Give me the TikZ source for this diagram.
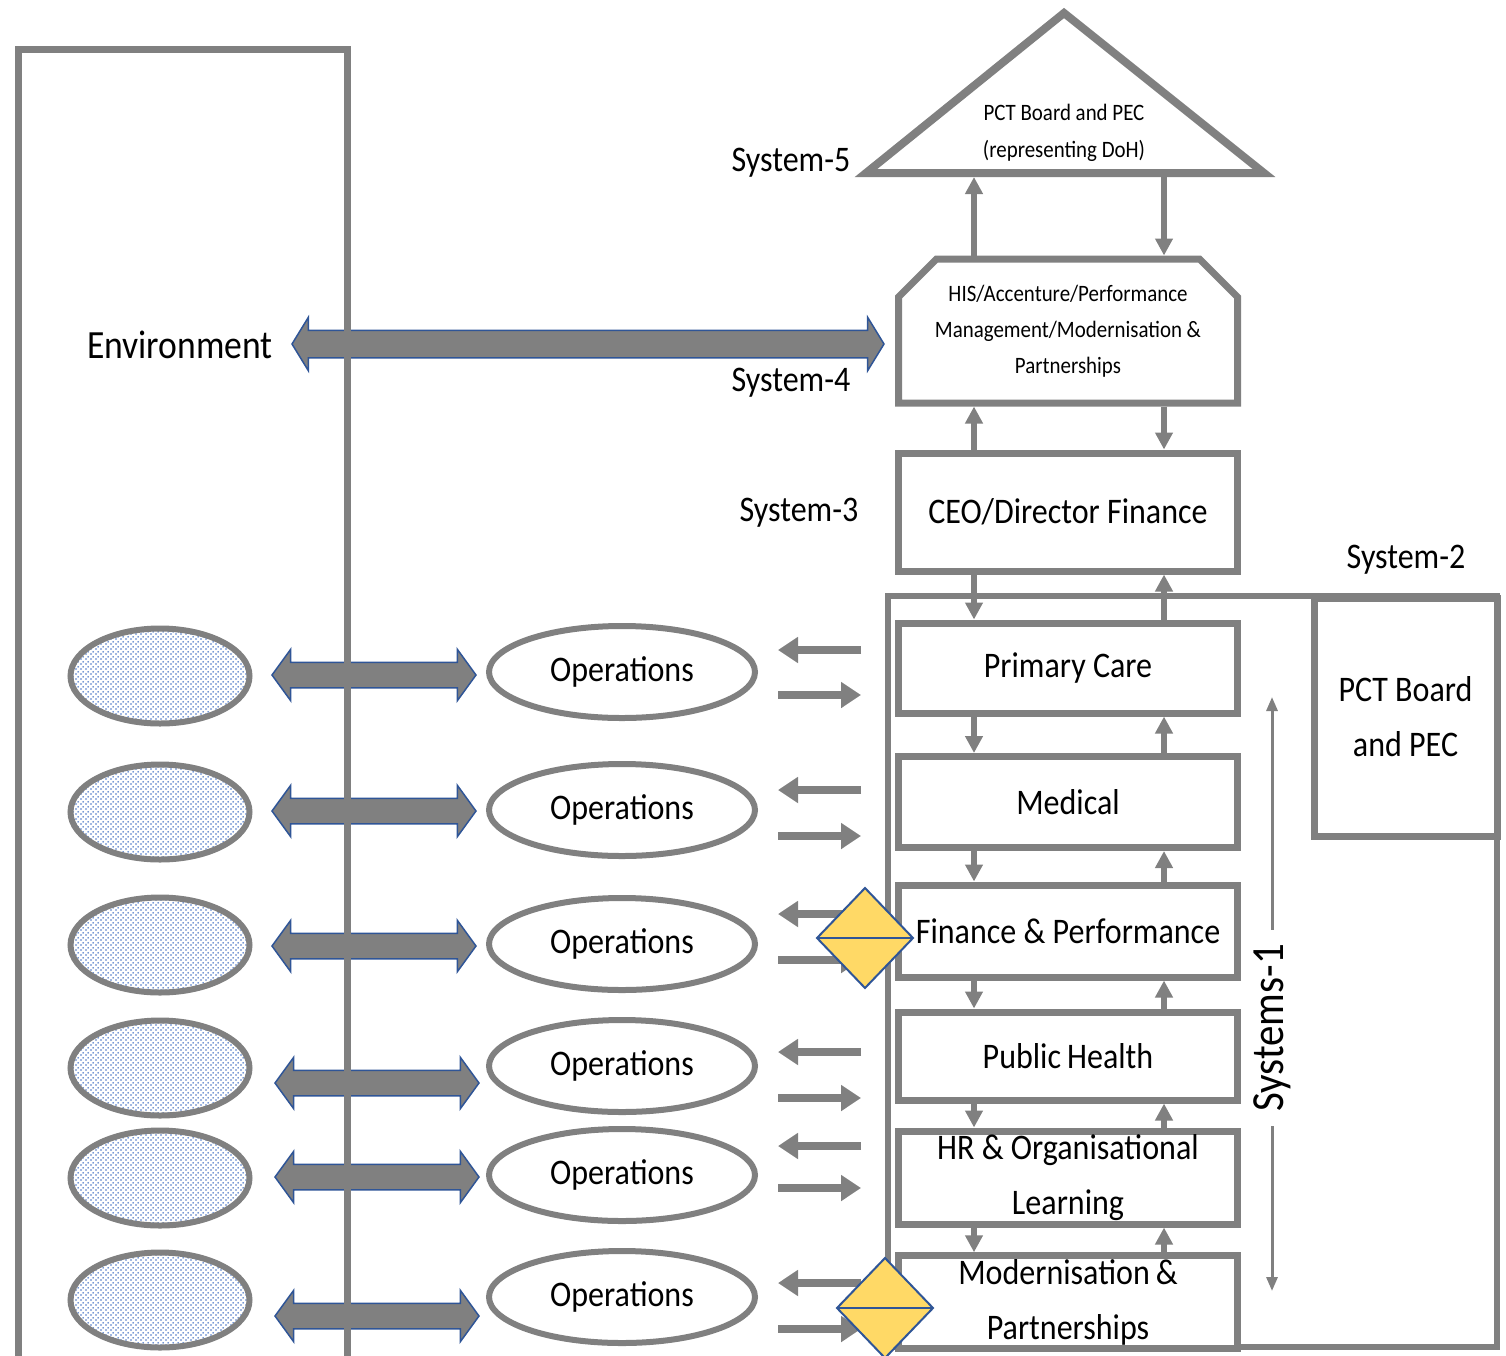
\documentclass[tikz,border=0pt]{standalone}
\usepackage{fontspec}
\setmainfont{Carlito}[FakeStretch=0.89]
\usetikzlibrary{shapes.geometric, shapes.misc, shapes.arrows, arrows.meta, patterns, patterns.meta}
\definecolor{linegray}{HTML}{808080}
\definecolor{edgeblue}{HTML}{2F5597}
\definecolor{dotblue}{HTML}{4472C4}
\definecolor{gatefill}{HTML}{FFD966}
\tikzdeclarepattern{
  name=bluedots,
  type=uncolored,
  bottom left={(0pt,0pt)},
  top right={(5pt,5pt)},
  tile size={(5pt,5pt)},
  code={\fill (1.25pt,1.25pt) circle (1.05pt); \fill (3.75pt,3.75pt) circle (1.05pt);}
}
\tikzstyle{unit} = [rectangle, draw=linegray, line width=7pt, fill=white, minimum width=339pt, text centered, align=center, font=\fontsize{36}{55}\selectfont]
\tikzstyle{syslabel} = [font=\fontsize{36}{40}\selectfont]
\tikzstyle{blob} = [ellipse, draw=linegray, line width=6pt, minimum width=179pt, minimum height=95pt, pattern=bluedots, pattern color=dotblue]
\tikzstyle{ops} = [ellipse, draw=linegray, line width=6pt, minimum width=266pt, minimum height=92pt, fill=white, font=\fontsize{36}{40}\selectfont]
\tikzstyle{fatarrow} = [double arrow, draw=edgeblue, line width=1.5pt, fill=linegray, minimum height=204pt, minimum width=50pt, double arrow head extend=13pt, double arrow tip angle=108, inner xsep=0pt, inner ysep=12pt]
\tikzstyle{gate} = [diamond, draw=edgeblue, line width=2pt, fill=gatefill, minimum width=96pt, minimum height=100pt, inner sep=0pt, outer sep=0pt]
\tikzstyle{link} = [draw=linegray, line width=6pt, -{Triangle[width=17pt,length=17pt]}]
\tikzstyle{flow} = [draw=linegray, line width=8pt, -{Triangle[width=25pt,length=20pt]}]
\tikzstyle{thinarrow} = [draw=linegray, line width=3pt, -{Triangle[width=11pt,length=14pt]}]

\begin{document}
\begin{tikzpicture}[x=1pt, y=-1pt]
	\useasboundingbox (0,0) rectangle (1506,1355);

	% environment side
	\node [font=\fontsize{40}{44}\selectfont] at (180,345) (env) {Environment};
	\node [fatarrow, minimum height=592pt, minimum width=52pt, inner ysep=13pt, double arrow tip angle=117] at (588,344) (envlink) {};
	\node [blob] at (160,676) (blob1) {};
	\node [blob] at (160,812) (blob2) {};
	\node [blob] at (160,945) (blob3) {};
	\node [blob] at (160,1068) (blob4) {};
	\node [blob] at (160,1178) (blob5) {};
	\node [blob] at (160,1300) (blob6) {};
	\node [fatarrow] at (374,675) (link1) {};
	\node [fatarrow] at (374,811) (link2) {};
	\node [fatarrow] at (374,946) (link3) {};
	\node [fatarrow] at (377,1083) (link4) {};
	\node [fatarrow] at (377,1177) (link5) {};
	\node [fatarrow] at (377,1316) (link6) {};
	\draw [line width=7pt, draw=linegray] (18.5,1365) -- (18.5,49) -- (347,49) -- (347,1365);

	% operations
	\node [ops] at (622,672) (op1) {Operations};
	\node [ops] at (622,810) (op2) {Operations};
	\node [ops] at (622,944) (op3) {Operations};
	\node [ops] at (622,1066) (op4) {Operations};
	\node [ops] at (622,1175) (op5) {Operations};
	\node [ops] at (622,1297) (op6) {Operations};

	% system 5 to 3
	\coordinate (s5apex) at (1064,13);
	\coordinate (s5left) at (866,173);
	\coordinate (s5right) at (1264,173);
	\coordinate (s5base) at (1064,177);
	\draw [line width=8pt, draw=linegray, fill=white] (s5left) -- (s5apex) -- (s5right) -- cycle;
	\node [font=\fontsize{23.5}{37}\selectfont, align=center] at (1064,133) (s5) {PCT Board and PEC\\(representing DoH)};
	\node [unit, chamfered rectangle, chamfered rectangle corners={north west, north east}, chamfered rectangle xsep=18pt, chamfered rectangle ysep=20pt, minimum height=144pt, font=\fontsize{23.5}{36}\selectfont] at (1068,331) (s4) {HIS/Accenture/Performance\\Management/Modernisation \&\\Partnerships};
	\node [unit, minimum height=118pt] at (1068,512) (s3) {CEO/Director Finance};
	\node [syslabel] at (791,163) (lab5) {System-5};
	\node [syslabel] at (791,383) (lab4) {System-4};
	\node [syslabel] at (799,513) (lab3) {System-3};
	\node [syslabel] at (1406,560) (lab2) {System-2};

	% system 1 and 2
	\draw [line width=6pt, draw=linegray] (888,596) rectangle (1497,1347);
	\node [unit, minimum width=183pt, minimum height=238pt] at (1405.5,717) (s2) {PCT Board\\and PEC};
	\node [unit, minimum height=90pt] at (1068,668) (pc) {Primary Care};
	\node [unit, minimum height=91pt] at (1068,802) (med) {Medical};
	\node [unit, minimum height=92pt] at (1068,931) (fin) {Finance \& Performance};
	\node [unit, minimum height=88pt] at (1068,1056) (ph) {Public\,Health};
	\node [unit, minimum height=93pt] at (1068,1177.5) (hr) {HR \& Organisational\\Learning};
	\node [unit, minimum height=89pt] at (1068,1302) (mod) {Modernisation\,\&\\Partnerships};

	\coordinate (dnx) at (974,0);
	\coordinate (upx) at (1164,0);
	\draw [link] (s4.north -| dnx) -- (s5base -| dnx);
	\draw [link] (s5base -| upx) -- (s4.north -| upx);
	\draw [link] (s3.north -| dnx) -- (s4.south -| dnx);
	\draw [link] (s4.south -| upx) -- (s3.north -| upx);
	\draw [link] (s3.south -| dnx) -- (pc.north -| dnx);
	\draw [link] (pc.north -| upx) -- (s3.south -| upx);
	\draw [link] (pc.south -| dnx) -- (med.north -| dnx);
	\draw [link] (med.north -| upx) -- (pc.south -| upx);
	\draw [link] (med.south -| dnx) -- (fin.north -| dnx);
	\draw [link] (fin.north -| upx) -- (med.south -| upx);
	\draw [link] (fin.south -| dnx) -- (ph.north -| dnx);
	\draw [link] (ph.north -| upx) -- (fin.south -| upx);
	\draw [link] (ph.south -| dnx) -- (hr.north -| dnx);
	\draw [link] (hr.north -| upx) -- (ph.south -| upx);
	\draw [link] (hr.south -| dnx) -- (mod.north -| dnx);
	\draw [link] (mod.north -| upx) -- (hr.south -| upx);

	\node [font=\fontsize{46}{50}\selectfont, rotate=90, inner xsep=14pt] at (1272,1028) (sys1) {Systems-1};
	\coordinate (s1top) at (1272,697);
	\coordinate (s1bot) at (1272,1291);
	\draw [thinarrow] (sys1.east) -- (s1top);
	\draw [thinarrow] (sys1.west) -- (s1bot);

	% flows between operations and system 1
	\coordinate (fl) at (778,0);
	\coordinate (fr) at (861,0);
	\coordinate (back1) at (861,650);
	\coordinate (back2) at (861,790);
	\coordinate (back3) at (861,914);
	\coordinate (back4) at (861,1052);
	\coordinate (back5) at (861,1146);
	\coordinate (back6) at (861,1283);
	\coordinate (fwd1) at (778,695);
	\coordinate (fwd2) at (778,836);
	\coordinate (fwd3) at (778,960);
	\coordinate (fwd4) at (778,1098);
	\coordinate (fwd5) at (778,1188);
	\coordinate (fwd6) at (778,1329);
	\draw [flow] (back1) -- (back1 -| fl);
	\draw [flow] (back2) -- (back2 -| fl);
	\draw [flow] (back3) -- (back3 -| fl);
	\draw [flow] (back4) -- (back4 -| fl);
	\draw [flow] (back5) -- (back5 -| fl);
	\draw [flow] (back6) -- (back6 -| fl);
	\draw [flow] (fwd1) -- (fwd1 -| fr);
	\draw [flow] (fwd2) -- (fwd2 -| fr);
	\draw [flow] (fwd3) -- (fwd3 -| fr);
	\draw [flow] (fwd4) -- (fwd4 -| fr);
	\draw [flow] (fwd5) -- (fwd5 -| fr);
	\draw [flow] (fwd6) -- (fwd6 -| fr);

	\node [gate] at (865,938) (gate1) {};
	\draw [edgeblue, line width=2pt] (gate1.west) -- (gate1.east);
	\node [gate] at (885,1308) (gate2) {};
	\draw [edgeblue, line width=2pt] (gate2.west) -- (gate2.east);
\end{tikzpicture}
\end{document}
